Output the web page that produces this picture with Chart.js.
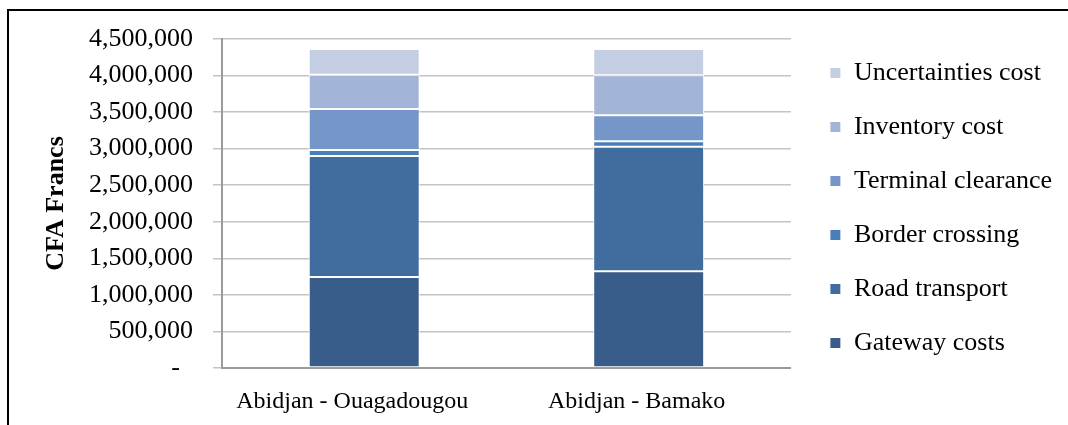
<!DOCTYPE html>
<html>
<head>
<meta charset="utf-8">
<script src="https://cdn.jsdelivr.net/npm/chart.js@4.4.1/dist/chart.umd.min.js"></script>
<style>
  html, body { margin: 0; padding: 0; background: #fff; }
  #wrap { position: relative; width: 1068px; height: 425px; overflow: hidden; }
  #frame { position: absolute; left: 7px; top: 9px; right: -10px; bottom: -10px;
           border-left: 2px solid #000; border-top: 2px solid #000; pointer-events: none; }
  canvas { position: absolute; left: 0; top: 0; }
</style>
</head>
<body>
<div id="wrap">
  <canvas id="chart" width="1068" height="425"></canvas>
  <div id="frame"></div>
</div>
<script>
// categories and series (CFA Francs)
const routes = ["Abidjan - Ouagadougou", "Abidjan - Bamako"];
const gatewayCosts = [1244000, 1322000];
const roadTransport = [1655000, 1705000];
const borderCrossing = [82000, 73000];
const terminalClearance = [561000, 356000];
const inventoryCost = [469000, 547000];
const uncertaintiesCost = [351000, 359000];

const yTicks = [0, 500000, 1000000, 1500000, 2000000, 2500000, 3000000, 3500000, 4000000, 4500000];

const serif = "'Liberation Serif', 'Times New Roman', serif";

function seg(label, data, color) {
  return {
    label: label,
    data: data,
    backgroundColor: color,
    borderColor: "#ffffff",
    borderWidth: 1,
    borderSkipped: false,
    categoryPercentage: 1,
    barPercentage: 0.39,
  };
}

// empty axes used only as spacers
const spacer = (size, horizontal) => ({
  position: horizontal ? "top" : "right",
  display: true,
  grid: { display: false },
  border: { display: false },
  ticks: { display: false },
  afterFit: (s) => { if (horizontal) s.height = size; else s.width = size; },
});

new Chart(document.getElementById("chart"), {
  type: "bar",
  data: {
    labels: routes,
    datasets: [
      seg("Gateway costs", gatewayCosts, "#395d8a"),
      seg("Road transport", roadTransport, "#416c9e"),
      seg("Border crossing", borderCrossing, "#4a7ebb"),
      seg("Terminal clearance", terminalClearance, "#7596c8"),
      seg("Inventory cost", inventoryCost, "#a3b5d7"),
      seg("Uncertainties cost", uncertaintiesCost, "#c4cee3"),
    ],
  },
  options: {
    responsive: false,
    animation: false,
    layout: { padding: { left: 37, top: 32, right: 6, bottom: 0 } },
    plugins: {
      tooltip: { enabled: false },
      legend: {
        position: "right",
        align: "start",
        reverse: true,
        maxWidth: 300,
        labels: {
          boxWidth: 11,
          boxHeight: 11,
          padding: 28,
          color: "#000",
          font: { family: serif, size: 26 },
        },
      },
    },
    scales: {
      x: {
        stacked: true,
        grid: { display: false, drawTicks: false },
        border: { display: true, color: "#9a9a9a", width: 2 },
        ticks: { color: "#000", padding: 19, labelOffset: -12, font: { family: serif, size: 24 } },
        afterFit: (s) => { s.height = 57; },
      },
      y: {
        stacked: true,
        min: 0,
        max: 4500000,
        afterBuildTicks: (s) => { s.ticks = yTicks.map(v => ({ value: v })); },
        grid: { color: "#c4c4c4", lineWidth: 1.5, tickLength: 9 },
        border: { display: true, color: "#9a9a9a", width: 2 },
        ticks: {
          color: "#000",
          padding: 20,
          font: { family: serif, size: 26 },
          callback: (v) => v === 0 ? "-  " : Number(v).toLocaleString("en-US"),
        },
        title: {
          display: true,
          text: "CFA Francs",
          color: "#000",
          font: { family: serif, size: 26, weight: "bold" },
        },
        afterFit: (s) => { s.width = 185; },
      },
      gapTop: spacer(7, true),
      gapRight: spacer(11, false),
    },
  },
});
</script>
</body>
</html>
